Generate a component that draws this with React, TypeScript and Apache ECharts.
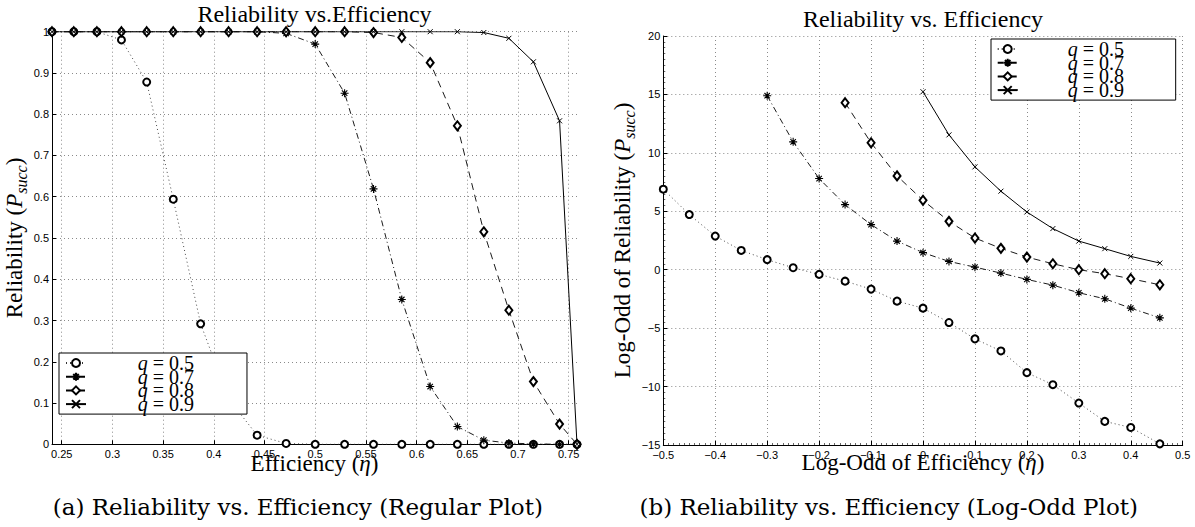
import React, { useEffect, useRef } from 'react';
import * as echarts from 'echarts';

// ---------- data ----------
const seriesNames = ['q = 0.5', 'q = 0.7', 'q = 0.8', 'q = 0.9'];

// (a) regular plot
const efficiency = [0.2404, 0.2619, 0.2847, 0.3089, 0.3338, 0.36, 0.387, 0.4146, 0.4427, 0.4713, 0.5, 0.529, 0.5575, 0.5854, 0.6134, 0.6402, 0.6663, 0.691, 0.7152, 0.741, 0.7582];
const relQ05 = [1, 1, 1, 0.98, 0.878, 0.594, 0.292, 0.11, 0.022, 0.002, 0, 0, 0, 0, 0, 0, 0, 0, 0, 0, 0];
const relQ07 = [1, 1, 1, 1, 1, 1, 1, 1, 1, 0.996, 0.97, 0.851, 0.619, 0.351, 0.14, 0.043, 0.01, 0.003, 0.001, 0, 0];
const relQ08 = [1, 1, 1, 1, 1, 1, 1, 1, 1, 1, 1, 1, 0.998, 0.986, 0.925, 0.772, 0.515, 0.325, 0.152, 0.049, 0];
const relQ09 = [1, 1, 1, 1, 1, 1, 1, 1, 1, 1, 1, 1, 1, 1, 1, 1, 0.998, 0.984, 0.927, 0.784, 0];
const effTicks = [0.25, 0.3, 0.35, 0.4, 0.45, 0.5, 0.55, 0.6, 0.65, 0.7, 0.75];

// (b) log-odd plot
const logEff = [-0.5, -0.45, -0.4, -0.35, -0.3, -0.25, -0.2, -0.15, -0.1, -0.05, 0, 0.05, 0.1, 0.15, 0.2, 0.25, 0.3, 0.35, 0.4, 0.456];
const logQ05 = [6.89, 4.72, 2.88, 1.65, 0.86, 0.17, -0.4, -0.98, -1.66, -2.69, -3.29, -4.52, -5.92, -6.95, -8.81, -9.84, -11.41, -12.98, -13.5, -14.9];
const logQ07 = [null, null, null, null, 14.89, 10.94, 7.8, 5.57, 3.86, 2.45, 1.46, 0.71, 0.22, -0.29, -0.83, -1.32, -1.97, -2.49, -3.29, -4.12];
const logQ08 = [null, null, null, null, null, null, null, 14.29, 10.86, 8.03, 5.94, 4.14, 2.71, 1.83, 1.08, 0.51, 0, -0.34, -0.77, -1.29];
const logQ09 = [null, null, null, null, null, null, null, null, null, null, 15.23, 11.54, 8.8, 6.72, 4.94, 3.52, 2.45, 1.8, 1.14, 0.57];

// ---------- styles ----------
const SERIF = '"Liberation Serif", "Times New Roman", serif';
const SANS = '"Liberation Sans", Arial, sans-serif';
const CAPTION = '"DejaVu Serif", serif';

const STAR = 'path://M5,0L5,10M0,5L10,5M1.6,1.6L8.4,8.4M1.6,8.4L8.4,1.6';
const CROSS = 'path://M0,0L10,10M0,10L10,0';

const seriesLook = [
  { symbol: 'emptyCircle', symbolSize: 7, line: { type: [1, 3], width: 0.9, color: '#333' }, item: { color: '#000', borderWidth: 1 } },
  { symbol: STAR, symbolSize: 8, line: { type: [6, 3, 1, 3], width: 0.9, color: '#000' }, item: { color: '#000', borderColor: '#000', borderWidth: 1.1 } },
  { symbol: 'emptyDiamond', symbolSize: [7, 9], line: { type: [7, 5], width: 0.9, color: '#000' }, item: { color: '#000', borderWidth: 1 } },
  { symbol: CROSS, symbolSize: 5, line: { type: 'solid', width: 1, color: '#000' }, item: { color: '#000', borderColor: '#000', borderWidth: 1 } },
];

const fmtNum = (v: number, d: number) => {
  const r = +v.toFixed(d);
  return (r < 0 ? '\u2212' : '') + String(Math.abs(r));
};

const gridLine = { show: true, lineStyle: { type: [1, 3] as any, color: '#8a8a8a', width: 1 } };
const axisLine = { show: true, onZero: false, lineStyle: { color: '#000', width: 1 } };
const tick = { show: true, inside: true, length: 4, lineStyle: { color: '#000', width: 1 } };
const labelStyle = { color: '#000', fontFamily: SANS, fontSize: 11 };

const nameRich = {
  t: { fontFamily: SERIF, fontSize: 23, color: '#000', lineHeight: 30, verticalAlign: 'middle' },
  i: { fontFamily: SERIF, fontSize: 23, fontStyle: 'italic', color: '#000', lineHeight: 30, verticalAlign: 'middle' },
  sub: { fontFamily: SERIF, fontSize: 16, fontStyle: 'italic', color: '#000', lineHeight: 16, verticalAlign: 'bottom' },
};

const legendRich = (spacer: number) => ({
  s: { width: spacer, lineHeight: 14 },
  q: { fontFamily: SERIF, fontSize: 20, fontStyle: 'italic', color: '#000', lineHeight: 14 },
  t: { fontFamily: SERIF, fontSize: 20, color: '#000', lineHeight: 14 },
});

const legendFormatter = (name: string) => `{s|}{q|q}{t|${name.slice(1)}}`;

export default function App() {
  const ref = useRef<HTMLDivElement>(null);

  useEffect(() => {
    if (!ref.current) return;
    const chart = echarts.init(ref.current, undefined, { renderer: 'svg' });

    const leftSeries = [relQ05, relQ07, relQ08, relQ09].map((vals, k) => ({
      name: seriesNames[k],
      type: 'line',
      xAxisIndex: 0,
      yAxisIndex: 0,
      data: efficiency.map((x, i) => [x, vals[i]]),
      symbol: seriesLook[k].symbol,
      symbolSize: seriesLook[k].symbolSize,
      showAllSymbol: true,
      lineStyle: seriesLook[k].line,
      itemStyle: seriesLook[k].item,
      color: '#000',
      z: 3 + k,
    }));

    const rightSeries = [logQ05, logQ07, logQ08, logQ09].map((vals, k) => ({
      name: seriesNames[k],
      type: 'line',
      xAxisIndex: 1,
      yAxisIndex: 1,
      data: logEff.map((x, i) => [x, vals[i]]).filter((p) => p[1] !== null),
      symbol: seriesLook[k].symbol,
      symbolSize: seriesLook[k].symbolSize,
      showAllSymbol: true,
      lineStyle: seriesLook[k].line,
      itemStyle: seriesLook[k].item,
      color: '#000',
      z: 3 + k,
    }));

    const legendCommon = {
      orient: 'vertical', itemWidth: 20, itemHeight: 10, itemGap: -6.3,
      backgroundColor: '#fff', borderColor: '#000', borderWidth: 1,
      selectedMode: false, data: seriesNames, formatter: legendFormatter, z: 10,
    };

    chart.setOption({
      animation: false,
      backgroundColor: '#fff',
      grid: [
        { left: 52, top: 31.7, width: 525, height: 412.6, containLabel: false },
        { left: 663.3, top: 36, width: 519.4, height: 409, containLabel: false },
      ],
      xAxis: [
        {
          type: 'value', gridIndex: 0, min: 0.2404, max: 0.7582,
          axisLine, axisTick: { ...tick, customValues: effTicks },
          axisLabel: { ...labelStyle, margin: 4, customValues: effTicks, formatter: (v: number) => fmtNum(v, 2) },
          splitLine: gridLine,
          name: '{t|Efficiency (}{i|\u03B7}{t|)}', nameLocation: 'middle', nameGap: 4, nameMoveOverlap: false,
          nameTextStyle: { rich: nameRich },
        },
        {
          type: 'value', gridIndex: 1, min: -0.5, max: 0.5, interval: 0.1,
          axisLine, axisTick: tick,
          minorTick: { show: true, splitNumber: 10, length: 2, lineStyle: { color: '#000', width: 0.6 } },
          axisLabel: { ...labelStyle, margin: 4, formatter: (v: number) => fmtNum(v, 1) },
          splitLine: gridLine,
          name: '{t|Log-Odd of Efficiency (}{i|\u03B7}{t|)}', nameLocation: 'middle', nameGap: 2, nameMoveOverlap: false,
          nameTextStyle: { rich: nameRich },
        },
      ],
      yAxis: [
        {
          type: 'value', gridIndex: 0, min: 0, max: 1, interval: 0.1,
          axisLine, axisTick: tick,
          axisLabel: { ...labelStyle, margin: 3, formatter: (v: number) => fmtNum(v, 1) },
          splitLine: gridLine,
          name: '{t|Reliability (}{i|P}{sub|succ}{t|)}', nameLocation: 'middle', nameGap: 20, nameRotate: 90,
          nameTextStyle: { rich: nameRich },
        },
        {
          type: 'value', gridIndex: 1, min: -15, max: 20, interval: 5,
          axisLine, axisTick: tick,
          minorTick: { show: true, splitNumber: 10, length: 2, lineStyle: { color: '#000', width: 0.6 } },
          axisLabel: { ...labelStyle, margin: 3, formatter: (v: number) => fmtNum(v, 0) },
          splitLine: gridLine,
          name: '{t|Log-Odd of Reliability (}{i|P}{sub|succ}{t|)}', nameLocation: 'middle', nameGap: 24, nameRotate: 90,
          nameTextStyle: { rich: nameRich },
        },
      ],
      legend: [
        {
          ...legendCommon, left: 59, top: 353, padding: [0, 53, 0, 6],
          textStyle: { fontFamily: SERIF, fontSize: 20, lineHeight: 14, rich: legendRich(46.7) },
        },
        {
          ...legendCommon, left: 991, top: 39, padding: [0, 51.7, 0, 5.7],
          textStyle: { fontFamily: SERIF, fontSize: 20, lineHeight: 14, rich: legendRich(45) },
        },
      ],
      graphic: [
        { type: 'text', x: 314.5, y: 14, style: { text: 'Reliability vs.Efficiency', fontFamily: SERIF, fontSize: 24, fill: '#000', align: 'center', verticalAlign: 'middle' } },
        { type: 'text', x: 923, y: 18.5, style: { text: 'Reliability vs. Efficiency', fontFamily: SERIF, fontSize: 24, fill: '#000', align: 'center', verticalAlign: 'middle' } },
        { type: 'text', x: 297.8, y: 507, style: { text: '(a) Reliability vs. Efficiency (Regular Plot)', fontFamily: CAPTION, fontSize: 23, fill: '#000', align: 'center', verticalAlign: 'middle' } },
        { type: 'text', x: 888.7, y: 507, style: { text: '(b) Reliability vs. Efficiency (Log-Odd Plot)', fontFamily: CAPTION, fontSize: 23, fill: '#000', align: 'center', verticalAlign: 'middle' } },
      ],
      series: [...leftSeries, ...rightSeries],
    });

    return () => chart.dispose();
  }, []);

  return <div ref={ref} style={{ position: 'fixed', left: 0, top: 0, width: 1195, height: 527, background: '#fff' }} />;
}
